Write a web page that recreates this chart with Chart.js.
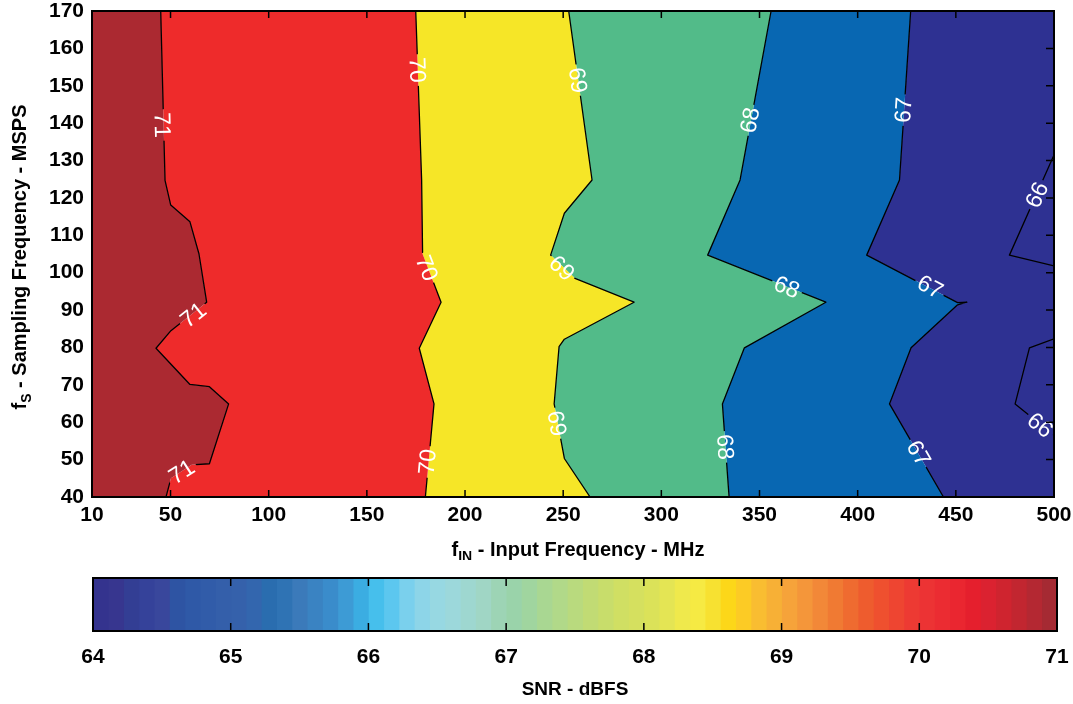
<!DOCTYPE html>
<html><head><meta charset="utf-8">
<script src="https://cdn.jsdelivr.net/npm/chart.js@4/dist/chart.umd.min.js"></script>
<style>
html,body{margin:0;padding:0;background:#fff;}
#wrap{position:relative;width:1073px;height:704px;overflow:hidden;}
canvas{position:absolute;left:0;}
#main{top:0;}
#cbar{top:560px;}
</style></head><body>
<div id="wrap"><canvas id="main" width="1073" height="560"></canvas><canvas id="cbar" width="1073" height="144"></canvas></div>
<script>
const FONT = '"Liberation Sans", Arial, Helvetica, sans-serif';

// ---- axes ----
const xRange = [10, 500];           // fIN, MHz
const yRange = [40, 170];           // fS, MSPS
const xTickValues = [10, 50, 100, 150, 200, 250, 300, 350, 400, 450, 500];
const yTickValues = [40, 50, 60, 70, 80, 90, 100, 110, 120, 130, 140, 150, 160, 170];

// ---- contour lines, points as [fIN (MHz), fS (MSPS)] ----
const contour71 = [[45.0,170],[47.2,124.7],[50.1,118.1],[59.9,113.6],[64.5,105],[68.4,92.1],[50.2,84.5],[42.6,79.8],[59.9,70.1],[69.8,69.5],[79.6,64.9],[69.8,48.9],[60.8,48.6],[50.2,45.0],[47.7,40]];
const contour70 = [[174.9,170],[177.9,124.8],[178.4,105],[187.8,92.1],[176.7,79.8],[184.2,64.9],[179.8,40]];
const contour69 = [[252.8,170],[264.7,124.8],[250.6,115.9],[243.6,104.7],[256.0,98.5],[286.1,92.1],[250.6,82.2],[247.9,80.2],[245.4,64.9],[250.6,50.3],[263.7,40]];
const contour68 = [[355.9,170],[340.1,124.8],[323.6,104.7],[383.8,92.1],[342.3,79.9],[331.1,64.9],[334.5,40]];
const contour67 = [[427.0,170],[421.3,124.8],[404.6,104.7],[450.9,92.0],[455.6,92.1],[450.9,91.4],[427.2,79.9],[416.2,64.9],[443.7,40]];
const contour66a = [[500,131.5],[477.3,104.7],[500,101.8]];
const contour66b = [[500,82.3],[487.5,79.9],[480.2,64.9],[500,56.5]];

const contourLines = [contour71, contour70, contour69, contour68, contour67, contour66a, contour66b];

// ---- band colours (SNR > 71, 70-71, 69-70, 68-69, 67-68, 66-67) ----
const bandColors = ['#ab2931', '#ee2b2b', '#f6e627', '#52bb89', '#0867b2', '#2e3192'];

// ---- contour labels: [level, fIN, fS, line index] ----
const contourLabels = [
  [71, 45.7, 139.5, 0], [71, 61.6, 88.7, 0], [71, 55.7, 46.7, 0],
  [70, 175.7, 154.2, 1], [70, 180.5, 101.2, 1], [70, 180.8, 49.4, 1],
  [69, 257.4, 151.5, 2], [69, 249.3, 101.2, 2], [69, 246.7, 59.7, 2],
  [68, 345.2, 140.8, 3], [68, 363.9, 96.1, 3], [68, 332.5, 53.4, 3],
  [67, 423.3, 143.5, 4], [67, 436.9, 96.2, 4], [67, 431.0, 51.7, 4],
  [66, 491.3, 120.8, 5], [66, 492.9, 59.2, 6]
];

// ---- colour bar ----
const colorbarRange = [64, 71];
const colorbarTicks = [64, 65, 66, 67, 68, 69, 70, 71];
const colorbarColors = [
  '#34338e','#37368f','#333e94','#35429a','#39479c','#2e54a3','#2f59a7','#315ca9','#345faa',
  '#3561ab','#3366ae','#2a6daf','#2f73b4','#3b7aba','#3a83c2','#3a8ccb','#3d9bd5','#3badE2',
  '#46bfec','#5cc7ef','#7ad0ed','#8dd5e8','#97d8e2','#9cd8db','#9ed7d0','#a0d6c5','#9dd4b5',
  '#9ad3aa','#a0d59f','#a9d792','#b1d989','#b9da7e','#c1db74','#c8dd6b','#d0df63','#d5e05f',
  '#dbe259','#e4e554','#efe94c','#f6ea43','#f7e131','#fcd719','#fccb25','#f9bd31','#f7b036',
  '#f6a33a','#f4963a','#f28838','#f07a33','#ef6b30','#ee5c2e','#ef502f','#ee4531','#ed3a33',
  '#ec3334','#eb2c32','#ea2630','#e51f2d','#db2230','#cf242f','#c22630','#b42832','#a52a33'
];

// ---------------------------------------------------------------
const LABEL_FONT_SIZE = 23;
const toPts = arr => arr.map(p => ({x: p[0], y: p[1]}));
const rev = arr => arr.slice().reverse();

const bandPolygons = [
  [[xRange[0], yRange[1]], ...contour71, [xRange[0], yRange[0]]],
  [...contour71, ...rev(contour70)],
  [...contour70, ...rev(contour69)],
  [...contour69, ...rev(contour68)],
  [...contour68, ...rev(contour67)],
  [...contour67, [xRange[1], yRange[0]], [xRange[1], yRange[1]]]
];

const datasets = [];
bandPolygons.forEach((poly, i) => datasets.push({
  data: toPts(poly), fill: 'shape', backgroundColor: bandColors[i], borderColor: 'transparent',
  borderWidth: 0, pointRadius: 0, tension: 0
}));
contourLines.forEach(line => datasets.push({
  data: toPts(line), fill: false, borderColor: '#000', borderWidth: 1.3, pointRadius: 0, tension: 0,
  borderJoinStyle: 'round', isContourLine: true
}));

function labelGeometry(chart) {
  const xs = chart.scales.x, ys = chart.scales.y;
  const ctx = chart.ctx;
  ctx.save();
  ctx.font = LABEL_FONT_SIZE + 'px ' + FONT;
  const out = contourLabels.map(([lev, x, y, li]) => {
    const px = xs.getPixelForValue(x), py = ys.getPixelForValue(y);
    const line = contourLines[li].map(p => [xs.getPixelForValue(p[0]), ys.getPixelForValue(p[1])]);
    let best = Infinity, ang = 0;
    for (let k = 0; k < line.length - 1; k++) {
      const [ax, ay] = line[k], [bx, by] = line[k + 1];
      const dx = bx - ax, dy = by - ay;
      const L2 = dx * dx + dy * dy || 1;
      let t = ((px - ax) * dx + (py - ay) * dy) / L2;
      t = Math.max(0, Math.min(1, t));
      const qx = ax + t * dx - px, qy = ay + t * dy - py;
      const d = qx * qx + qy * qy;
      if (d < best) { best = d; ang = Math.atan2(dy, dx); }
    }
    if (ang > Math.PI / 2) ang -= Math.PI;
    if (ang <= -Math.PI / 2) ang += Math.PI;
    return {text: String(lev), px, py, angle: ang, w: ctx.measureText(String(lev)).width};
  });
  ctx.restore();
  return out;
}

function drawSubTitle(ctx, parts, cx, cy, rot) {
  ctx.save();
  ctx.translate(cx, cy);
  ctx.rotate(rot);
  ctx.fillStyle = '#000';
  ctx.textBaseline = 'alphabetic';
  ctx.textAlign = 'left';
  let total = 0;
  const widths = parts.map(p => { ctx.font = 'bold ' + p.size + 'px ' + FONT; const w = ctx.measureText(p.t).width; total += w; return w; });
  let x = -total / 2;
  parts.forEach((p, i) => {
    ctx.font = 'bold ' + p.size + 'px ' + FONT;
    ctx.fillText(p.t, x, 7 + (p.dy || 0));
    x += widths[i];
  });
  ctx.restore();
}

const contourPlugin = {
  id: 'contourDeco',
  beforeDatasetDraw(chart, args) {
    const ds = chart.data.datasets[args.index];
    if (!ds.isContourLine) return;
    const ctx = chart.ctx;
    ctx.save();
    ctx.beginPath();
    ctx.rect(0, 0, chart.width, chart.height);
    for (const lb of labelGeometry(chart)) {
      const c = Math.cos(lb.angle), s = Math.sin(lb.angle);
      const hw = lb.w / 2 + 3, hh = 9;
      const pts = [[-hw, -hh], [hw, -hh], [hw, hh], [-hw, hh]].map(([a, b]) => [lb.px + a * c - b * s, lb.py + a * s + b * c]);
      ctx.moveTo(pts[0][0], pts[0][1]);
      for (let k = 1; k < 4; k++) ctx.lineTo(pts[k][0], pts[k][1]);
      ctx.closePath();
    }
    ctx.clip('evenodd');
  },
  afterDatasetDraw(chart, args) {
    if (!chart.data.datasets[args.index].isContourLine) return;
    chart.ctx.restore();
  },
  afterDatasetsDraw(chart) {
    const ctx = chart.ctx;
    const a = chart.chartArea;
    const xs = chart.scales.x, ys = chart.scales.y;
    // contour labels
    ctx.save();
    ctx.font = LABEL_FONT_SIZE + 'px ' + FONT;
    ctx.fillStyle = '#fff';
    ctx.textAlign = 'center';
    ctx.textBaseline = 'middle';
    for (const lb of labelGeometry(chart)) {
      ctx.save();
      ctx.translate(lb.px, lb.py);
      ctx.rotate(lb.angle);
      ctx.fillText(lb.text, 0, 1);
      ctx.restore();
    }
    ctx.restore();
    // inner tick marks
    ctx.save();
    ctx.strokeStyle = '#000';
    ctx.lineWidth = 1.5;
    ctx.beginPath();
    xTickValues.forEach(v => {
      const p = xs.getPixelForValue(v);
      ctx.moveTo(p, a.bottom); ctx.lineTo(p, a.bottom - 7);
      ctx.moveTo(p, a.top); ctx.lineTo(p, a.top + 7);
    });
    yTickValues.forEach(v => {
      const p = ys.getPixelForValue(v);
      ctx.moveTo(a.right, p); ctx.lineTo(a.right - 8, p);
    });
    ctx.stroke();
    // frame
    ctx.lineWidth = 2;
    ctx.strokeRect(a.left, a.top, a.right - a.left, a.bottom - a.top);
    ctx.restore();
    // axis titles with subscripts
    drawSubTitle(ctx, [{t: 'f', size: 20}, {t: 'IN', size: 14, dy: 5}, {t: ' - Input Frequency - MHz', size: 20}], 578, 549, 0);
    drawSubTitle(ctx, [{t: 'f', size: 20}, {t: 'S', size: 14, dy: 5}, {t: ' - Sampling Frequency - MSPS', size: 20}], 19, 257, -Math.PI / 2);
  }
};

Chart.defaults.font.family = FONT;

new Chart(document.getElementById('main'), {
  type: 'line',
  data: {datasets},
  plugins: [contourPlugin],
  options: {
    responsive: false, animation: false, devicePixelRatio: 1, events: [],
    layout: {padding: {top: 11, right: 19, left: 0, bottom: 0}},
    plugins: {legend: {display: false}, tooltip: {enabled: false}, filler: {drawTime: 'beforeDatasetsDraw'}},
    scales: {
      x: {
        type: 'linear', min: xRange[0], max: xRange[1],
        afterBuildTicks: ax => { ax.ticks = xTickValues.map(v => ({value: v})); },
        afterFit: s => { s.height = 63; s.paddingLeft = 0; s.paddingRight = 0; },
        grid: {display: false, drawTicks: false}, border: {display: false},
        ticks: {padding: 6, color: '#000', autoSkip: false, maxRotation: 0, font: {size: 21, weight: 'bold'}}
      },
      y: {
        type: 'linear', min: yRange[0], max: yRange[1],
        afterBuildTicks: ax => { ax.ticks = yTickValues.map(v => ({value: v})); },
        afterFit: s => { s.width = 92; s.paddingTop = 0; s.paddingBottom = 0; },
        grid: {display: false, drawTicks: false}, border: {display: false},
        ticks: {padding: 8, color: '#000', autoSkip: false, font: {size: 21, weight: 'bold'}}
      }
    }
  }
});

// ---- colour bar chart ----
const nSteps = colorbarColors.length;
const stepW = (colorbarRange[1] - colorbarRange[0]) / nSteps;
const cbarDatasets = colorbarColors.map((c, i) => ({
  data: [[colorbarRange[0] + i * stepW - (i > 0 ? 0.006 : 0), colorbarRange[0] + (i + 1) * stepW]],
  backgroundColor: c, borderWidth: 0, grouped: false, barPercentage: 1, categoryPercentage: 1
}));

const cbarPlugin = {
  id: 'cbarFrame',
  afterDatasetsDraw(chart) {
    const ctx = chart.ctx, a = chart.chartArea, xs = chart.scales.x;
    ctx.save();
    ctx.strokeStyle = '#000';
    ctx.lineWidth = 1.5;
    ctx.beginPath();
    colorbarTicks.slice(1, -1).forEach(v => {
      const p = xs.getPixelForValue(v);
      ctx.moveTo(p, a.top); ctx.lineTo(p, a.top + 8);
      ctx.moveTo(p, a.bottom); ctx.lineTo(p, a.bottom - 8);
    });
    ctx.stroke();
    ctx.lineWidth = 2;
    ctx.strokeRect(a.left, a.top, a.right - a.left, a.bottom - a.top);
    ctx.restore();
  }
};

new Chart(document.getElementById('cbar'), {
  type: 'bar',
  data: {labels: [''], datasets: cbarDatasets},
  plugins: [cbarPlugin],
  options: {
    indexAxis: 'y', responsive: false, animation: false, devicePixelRatio: 1, events: [],
    layout: {padding: {left: 93, right: 16, top: 18, bottom: 0}},
    plugins: {legend: {display: false}, tooltip: {enabled: false}},
    scales: {
      x: {
        type: 'linear', min: colorbarRange[0], max: colorbarRange[1],
        afterBuildTicks: ax => { ax.ticks = colorbarTicks.map(v => ({value: v})); },
        afterFit: s => { s.height = 73; s.paddingLeft = 0; s.paddingRight = 0; },
        grid: {display: false, drawTicks: false}, border: {display: false},
        ticks: {padding: 14, color: '#000', autoSkip: false, maxRotation: 0, font: {size: 21, weight: 'bold'}},
        title: {display: true, text: 'SNR - dBFS', color: '#000', font: {size: 19, weight: 'bold'}, padding: {top: 0, bottom: 3}}
      },
      y: {display: false}
    }
  }
});
</script>
</body></html>
